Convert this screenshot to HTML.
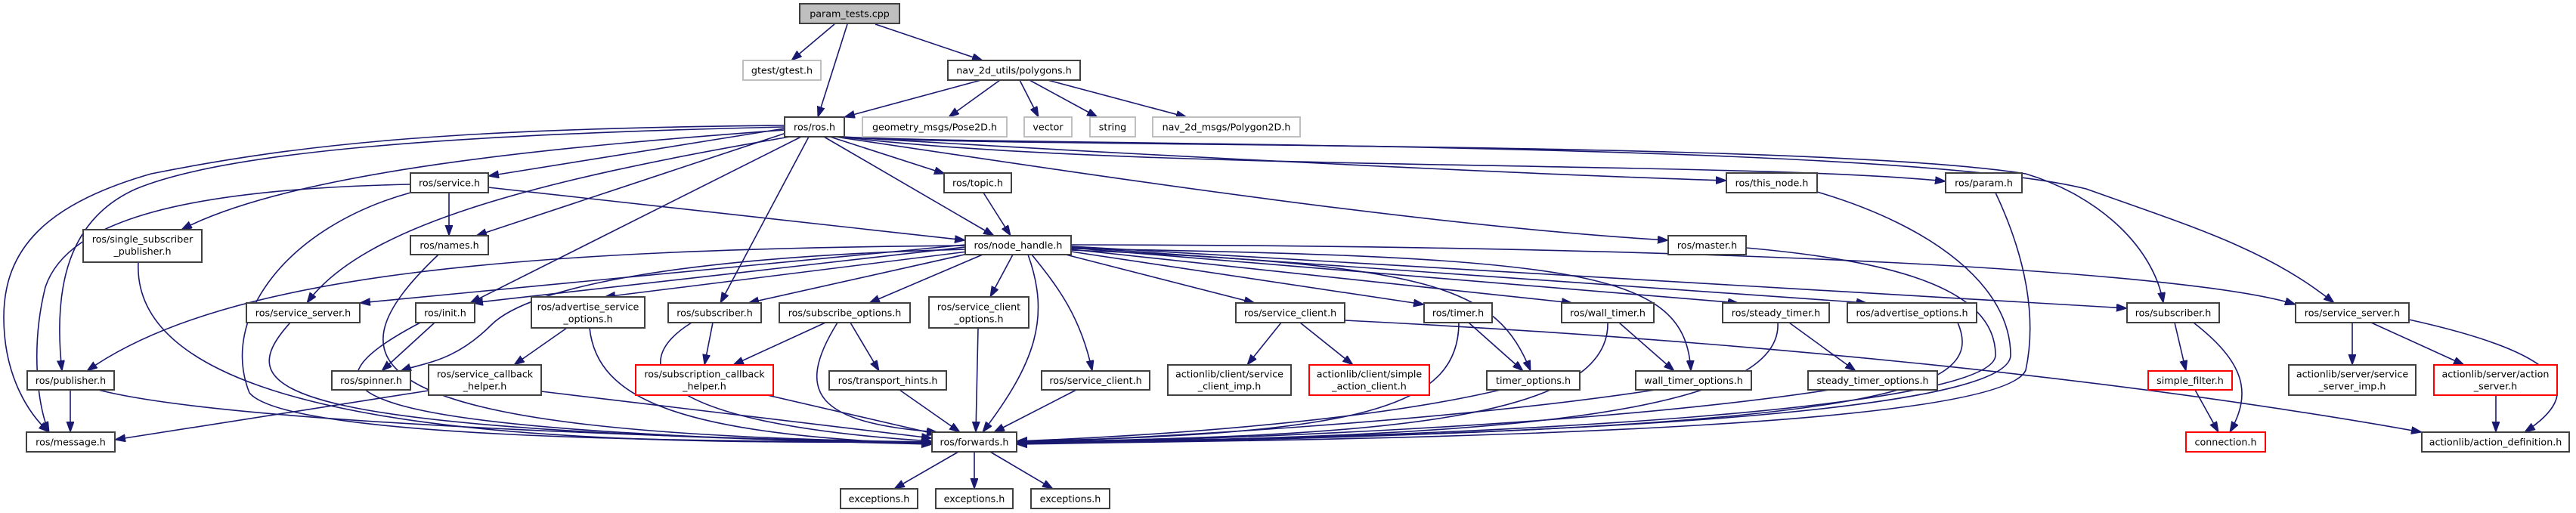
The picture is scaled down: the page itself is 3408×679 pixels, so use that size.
<!DOCTYPE html>
<html><head><meta charset="utf-8"><style>
html,body{margin:0;padding:0;background:#fff;}
svg{display:block;}
text{font-family:"DejaVu Sans","Liberation Sans",sans-serif;font-size:12.7px;fill:#000;text-anchor:middle;}
.n{fill:#fff;stroke:#404040;stroke-width:2;}
.g{fill:#fff;stroke:#bfbfbf;stroke-width:2;}
.r{fill:#fff;stroke:#ff0000;stroke-width:2;}
.e{fill:none;stroke:#191970;stroke-width:1.6;marker-end:url(#a);}
</style></head><body>
<svg width="3408" height="679" viewBox="0 0 3408 679" xmlns="http://www.w3.org/2000/svg">
<defs><marker id="a" markerUnits="userSpaceOnUse" markerWidth="16" markerHeight="12" refX="14" refY="5" orient="auto"><path d="M0,0 L14,5 L0,10 z" fill="#191970" stroke="#191970"/></marker></defs>
<g>
<path class="e" d="M1104,32 L1047,80"/>
<path class="e" d="M1121,32 L1082,155"/>
<path class="e" d="M1158,32 L1300,80"/>
<path class="e" d="M1298,106 L1117,155"/>
<path class="e" d="M1323,106 L1255,155"/>
<path class="e" d="M1349,106 L1374,155"/>
<path class="e" d="M1362,106 L1452,155"/>
<path class="e" d="M1386,106 L1570,155"/>
<path class="e" d="M1038,170 L646,233"/>
<path class="e" d="M1040,176 L630,312"/>
<path class="e" d="M1038,172 C800,190 400,220 240,304"/>
<path class="e" d="M1038,168 C600,178 300,200 180,250 C90,290 70,380 82,491"/>
<path class="e" d="M1038,166 C600,170 400,190 200,230 C60,270 5,330 5,420 C5,500 40,550 65,572"/>
<path class="e" d="M1045,181 C700,240 480,300 406,401"/>
<path class="e" d="M1060,181 L622,401"/>
<path class="e" d="M1070,181 L953,401"/>
<path class="e" d="M1098,181 L1250,230"/>
<path class="e" d="M1090,181 L1315,312"/>
<path class="e" d="M1110,181 C1500,205 2000,230 2284,239"/>
<path class="e" d="M1112,181 C1500,228 2300,212 2574,240"/>
<path class="e" d="M1105,181 C1500,240 1900,300 2207,318"/>
<path class="e" d="M1113,181 C1300,196 2400,185 2680,230 C2780,260 2850,330 2862,401"/>
<path class="e" d="M1116,181 C1300,193 2500,185 2760,250 C2900,300 3000,330 3088,401"/>
<path class="e" d="M594,255 L594,312"/>
<path class="e" d="M646,248 L1277,318"/>
<path class="e" d="M543,255 C380,300 290,420 330,520 C380,580 900,585 1233,585"/>
<path class="e" d="M543,244 C250,250 90,290 60,380 C40,460 50,540 65,572"/>
<path class="e" d="M580,337 C430,480 450,575 1233,585"/>
<path class="e" d="M183,347 C170,600 900,585 1233,585"/>
<path class="e" d="M1301,255 L1337,312"/>
<path class="e" d="M2404,254 C2560,300 2660,380 2660,470 C2660,550 2000,580 1345,585"/>
<path class="e" d="M2310,328 C2500,345 2640,380 2640,470 C2640,540 2000,580 1345,586"/>
<path class="e" d="M2640,255 C2680,340 2695,420 2680,490 C2650,560 2000,582 1345,587"/>
<path class="e" d="M1277,325 C700,330 300,360 115,491"/>
<path class="e" d="M1277,324 L476,401"/>
<path class="e" d="M1277,327 L625,401"/>
<path class="e" d="M1277,330 C900,340 700,380 650,430 S560,480 530,491"/>
<path class="e" d="M1280,333 L800,393"/>
<path class="e" d="M1285,335 L990,401"/>
<path class="e" d="M1300,337 L1150,401"/>
<path class="e" d="M1340,337 L1310,393"/>
<path class="e" d="M1365,337 C1400,380 1430,420 1445,491"/>
<path class="e" d="M1360,337 C1390,420 1370,480 1300,572"/>
<path class="e" d="M1410,337 L1660,401"/>
<path class="e" d="M1417,333 L1884,403"/>
<path class="e" d="M1417,331 C1900,350 1980,380 2025,491"/>
<path class="e" d="M1417,330 L2080,401"/>
<path class="e" d="M1417,329 C2100,340 2230,360 2237,491"/>
<path class="e" d="M1417,328 L2300,401"/>
<path class="e" d="M1417,327 L2470,401"/>
<path class="e" d="M1417,326 L2814,408"/>
<path class="e" d="M1417,324 C2300,325 2900,360 3037,403"/>
<path class="e" d="M93,516 L93,572"/>
<path class="e" d="M130,516 C300,560 900,580 1233,586"/>
<path class="e" d="M384,427 C300,520 360,570 1233,587"/>
<path class="e" d="M575,427 L505,491"/>
<path class="e" d="M556,427 C380,520 430,570 1233,588"/>
<path class="e" d="M750,434 L680,483"/>
<path class="e" d="M780,434 C790,530 900,575 1233,588"/>
<path class="e" d="M567,517 L152,582"/>
<path class="e" d="M716,518 L1233,580"/>
<path class="e" d="M943,427 L932,483"/>
<path class="e" d="M915,427 C830,480 850,560 1233,584"/>
<path class="e" d="M1092,427 L970,483"/>
<path class="e" d="M1125,427 L1163,491"/>
<path class="e" d="M1108,427 C1050,520 1080,560 1240,572"/>
<path class="e" d="M1015,523 L1240,575"/>
<path class="e" d="M1190,516 L1270,572"/>
<path class="e" d="M1294,434 L1291,572"/>
<path class="e" d="M1424,516 L1315,572"/>
<path class="e" d="M1695,427 L1650,483"/>
<path class="e" d="M1720,427 L1790,483"/>
<path class="e" d="M1779,424 C2300,450 2800,500 3204,572"/>
<path class="e" d="M1943,427 L2015,491"/>
<path class="e" d="M1930,427 C1930,540 1800,575 1345,584"/>
<path class="e" d="M1985,516 C1800,560 1500,578 1345,584"/>
<path class="e" d="M2142,427 L2215,491"/>
<path class="e" d="M2127,427 C2130,560 1800,578 1345,585"/>
<path class="e" d="M2190,516 C1900,560 1500,580 1345,586"/>
<path class="e" d="M2367,427 L2455,491"/>
<path class="e" d="M2352,427 C2360,560 1900,580 1345,586"/>
<path class="e" d="M2420,516 C2100,565 1600,582 1345,587"/>
<path class="e" d="M2590,427 C2630,520 2500,570 1345,588"/>
<path class="e" d="M2877,427 L2892,491"/>
<path class="e" d="M2902,427 C2970,480 2980,520 2950,572"/>
<path class="e" d="M2904,516 L2935,572"/>
<path class="e" d="M3112,427 L3112,483"/>
<path class="e" d="M3137,427 L3260,483"/>
<path class="e" d="M3187,423 C3400,470 3420,520 3340,572"/>
<path class="e" d="M3302,523 L3302,572"/>
<path class="e" d="M1268,598 L1183,647"/>
<path class="e" d="M1289,598 L1289,647"/>
<path class="e" d="M1310,598 L1393,647"/>
</g>
<g>
<rect x="1058" y="5" width="132" height="26" style="fill:#bfbfbf;stroke:#404040;stroke-width:2"/><text x="1124" y="22.5">param_tests.cpp</text>
<rect class="g" x="983" y="80" width="103" height="26"/><text x="1034.5" y="97.5">gtest/gtest.h</text>
<rect class="n" x="1254" y="80" width="175" height="26"/><text x="1341.5" y="97.5">nav_2d_utils/polygons.h</text>
<rect class="n" x="1038" y="155" width="79" height="26"/><text x="1077.5" y="172.5">ros/ros.h</text>
<rect class="g" x="1141" y="155" width="191" height="26"/><text x="1236.5" y="172.5">geometry_msgs/Pose2D.h</text>
<rect class="g" x="1355" y="155" width="63" height="26"/><text x="1386.5" y="172.5">vector</text>
<rect class="g" x="1442" y="155" width="60" height="26"/><text x="1472" y="172.5">string</text>
<rect class="g" x="1525" y="155" width="195" height="26"/><text x="1622.5" y="172.5">nav_2d_msgs/Polygon2D.h</text>
<rect class="n" x="543" y="229" width="103" height="26"/><text x="594.5" y="246.5">ros/service.h</text>
<rect class="n" x="1249" y="229" width="89" height="26"/><text x="1293.5" y="246.5">ros/topic.h</text>
<rect class="n" x="2284" y="229" width="120" height="26"/><text x="2344" y="246.5">ros/this_node.h</text>
<rect class="n" x="2574" y="229" width="101" height="26"/><text x="2624.5" y="246.5">ros/param.h</text>
<rect class="n" x="110" y="304" width="157" height="43"/><text x="188.5" y="321">ros/single_subscriber</text><text x="188.5" y="337">_publisher.h</text>
<rect class="n" x="543" y="312" width="103" height="25"/><text x="594.5" y="329">ros/names.h</text>
<rect class="n" x="1277" y="312" width="140" height="25"/><text x="1347" y="329">ros/node_handle.h</text>
<rect class="n" x="2207" y="312" width="103" height="25"/><text x="2258.5" y="329">ros/master.h</text>
<rect class="n" x="326" y="401" width="150" height="26"/><text x="401" y="418.5">ros/service_server.h</text>
<rect class="n" x="550" y="401" width="78" height="26"/><text x="589" y="418.5">ros/init.h</text>
<rect class="n" x="703" y="393" width="150" height="41"/><text x="778" y="410.5">ros/advertise_service</text><text x="778" y="426.5">_options.h</text>
<rect class="n" x="884" y="401" width="123" height="26"/><text x="945.5" y="418.5">ros/subscriber.h</text>
<rect class="n" x="1031" y="401" width="173" height="26"/><text x="1117.5" y="418.5">ros/subscribe_options.h</text>
<rect class="n" x="1229" y="393" width="132" height="41"/><text x="1295" y="410.5">ros/service_client</text><text x="1295" y="426.5">_options.h</text>
<rect class="n" x="1635" y="401" width="144" height="26"/><text x="1707" y="418.5">ros/service_client.h</text>
<rect class="n" x="1884" y="401" width="90" height="26"/><text x="1929" y="418.5">ros/timer.h</text>
<rect class="n" x="2066" y="401" width="122" height="26"/><text x="2127" y="418.5">ros/wall_timer.h</text>
<rect class="n" x="2279" y="401" width="141" height="26"/><text x="2349.5" y="418.5">ros/steady_timer.h</text>
<rect class="n" x="2444" y="401" width="171" height="26"/><text x="2529.5" y="418.5">ros/advertise_options.h</text>
<rect class="n" x="2814" y="401" width="122" height="26"/><text x="2875" y="418.5">ros/subscriber.h</text>
<rect class="n" x="3037" y="401" width="150" height="26"/><text x="3112" y="418.5">ros/service_server.h</text>
<rect class="n" x="36" y="491" width="115" height="25"/><text x="93.5" y="508">ros/publisher.h</text>
<rect class="n" x="439" y="491" width="104" height="25"/><text x="491" y="508">ros/spinner.h</text>
<rect class="n" x="567" y="483" width="149" height="40"/><text x="641.5" y="499.5">ros/service_callback</text><text x="641.5" y="515.5">_helper.h</text>
<rect class="r" x="841" y="483" width="182" height="40"/><text x="932" y="499.5">ros/subscription_callback</text><text x="932" y="515.5">_helper.h</text>
<rect class="n" x="1097" y="491" width="155" height="25"/><text x="1174.5" y="508">ros/transport_hints.h</text>
<rect class="n" x="1378" y="491" width="143" height="25"/><text x="1449.5" y="508">ros/service_client.h</text>
<rect class="n" x="1545" y="483" width="163" height="40"/><text x="1626.5" y="499.5">actionlib/client/service</text><text x="1626.5" y="515.5">_client_imp.h</text>
<rect class="r" x="1732" y="483" width="159" height="40"/><text x="1811.5" y="499.5">actionlib/client/simple</text><text x="1811.5" y="515.5">_action_client.h</text>
<rect class="n" x="1967" y="491" width="123" height="25"/><text x="2028.5" y="508">timer_options.h</text>
<rect class="n" x="2164" y="491" width="153" height="25"/><text x="2240.5" y="508">wall_timer_options.h</text>
<rect class="n" x="2392" y="491" width="171" height="25"/><text x="2477.5" y="508">steady_timer_options.h</text>
<rect class="r" x="2842" y="491" width="111" height="25"/><text x="2897.5" y="508">simple_filter.h</text>
<rect class="n" x="3028" y="483" width="168" height="40"/><text x="3112" y="499.5">actionlib/server/service</text><text x="3112" y="515.5">_server_imp.h</text>
<rect class="r" x="3220" y="483" width="163" height="40"/><text x="3301.5" y="499.5">actionlib/server/action</text><text x="3301.5" y="515.5">_server.h</text>
<rect class="n" x="35" y="572" width="117" height="26"/><text x="93.5" y="589.5">ros/message.h</text>
<rect class="n" x="1233" y="572" width="112" height="26"/><text x="1289" y="589.5">ros/forwards.h</text>
<rect class="r" x="2892" y="572" width="105" height="26"/><text x="2944.5" y="589.5">connection.h</text>
<rect class="n" x="3204" y="572" width="195" height="26"/><text x="3301.5" y="589.5">actionlib/action_definition.h</text>
<rect class="n" x="1112" y="647" width="102" height="26"/><text x="1163" y="664.5">exceptions.h</text>
<rect class="n" x="1238" y="647" width="102" height="26"/><text x="1289" y="664.5">exceptions.h</text>
<rect class="n" x="1364" y="647" width="104" height="26"/><text x="1416" y="664.5">exceptions.h</text>
</g>
</svg>
</body></html>
